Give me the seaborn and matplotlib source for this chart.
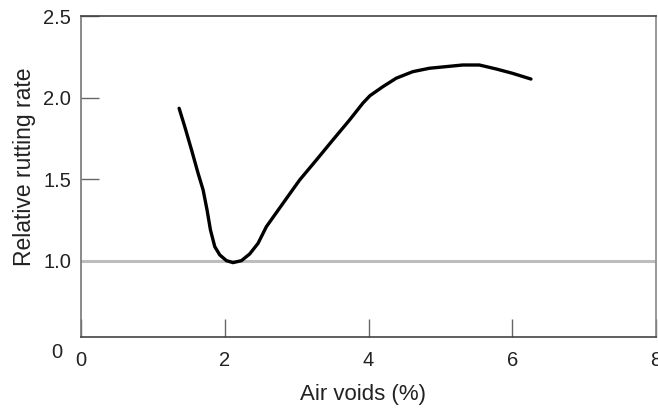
import matplotlib
matplotlib.use("Agg")
import matplotlib.pyplot as plt
import seaborn as sns
import pandas as pd

air_voids = [1.365, 1.444, 1.538, 1.629, 1.699, 1.754, 1.801, 1.861, 1.931, 2.024,
             2.115, 2.232, 2.347, 2.463, 2.579, 2.810, 3.042, 3.274, 3.504, 3.736,
             3.921, 4.02, 4.199, 4.385, 4.615, 4.847, 5.079, 5.310, 5.542, 5.774,
             6.004, 6.260]
rutting_rate = [1.935, 1.822, 1.680, 1.537, 1.435, 1.312, 1.190, 1.088, 1.037, 1.002,
                0.990, 1.002, 1.043, 1.108, 1.210, 1.353, 1.496, 1.618, 1.741, 1.863,
                1.966, 2.012, 2.067, 2.119, 2.159, 2.180, 2.190, 2.200, 2.200, 2.176,
                2.149, 2.114]
x_ticks = [0, 2, 4, 6, 8]
y_ticks = [1.0, 1.5, 2.0, 2.5]
y_tick_labels = ["1.0", "1.5", "2.0", "2.5"]
reference_level = 1.0

sns.set_theme(style="white")
plt.rcParams['font.family'] = ['Liberation Sans', 'DejaVu Sans']

df = pd.DataFrame({"x": air_voids, "y": rutting_rate})

fig = plt.figure(figsize=(6.58, 4.08), dpi=100)
ax = fig.add_axes([81/658, 71/408, 575/658, 321/408])

ax.axhline(reference_level, color="#bdbdbd", lw=2.2, zorder=1)
sns.lineplot(data=df, x="x", y="y", ax=ax, color="black", lw=2.4, zorder=3,
             sort=False)
for ln in ax.get_lines():
    ln.set_solid_joinstyle("round")
    ln.set_solid_capstyle("round")

ax.set_xlim(0, 8)
ax.set_ylim(0.5346, 2.5)
ax.set_xticks(x_ticks)
ax.set_xticklabels([str(t) for t in x_ticks])
ax.set_yticks(y_ticks)
ax.set_yticklabels(y_tick_labels)

ax.tick_params(axis="both", direction="in", length=13, width=1.0, color="#666666",
               labelsize=14.5, labelcolor="#222222", bottom=True, left=True,
               top=False, right=False)
ax.tick_params(axis="x", pad=10)
ax.tick_params(axis="y", pad=7)

for side in ["left", "right", "top", "bottom"]:
    ax.spines[side].set_visible(True)
    ax.spines[side].set_linewidth(1.2)
ax.spines["left"].set_color("#777777")
ax.spines["right"].set_color("#888888")
ax.spines["top"].set_color("#444444")
ax.spines["bottom"].set_color("#444444")

ax.set_xlabel("Air voids (%)", fontsize=16, color="#222222")
ax.set_ylabel("Relative rutting rate", fontsize=16.5, color="#222222")
ax.xaxis.set_label_coords(0.49, -0.178)
ax.yaxis.set_label_coords(-0.099, 0.53)
ax.xaxis.label.set_va("center")
ax.yaxis.label.set_va("center")

fig.text(57/658, 1 - 352/408, "0", fontsize=14.5, color="#222222", ha="center", va="center")

fig.savefig("out.png", dpi=100)
